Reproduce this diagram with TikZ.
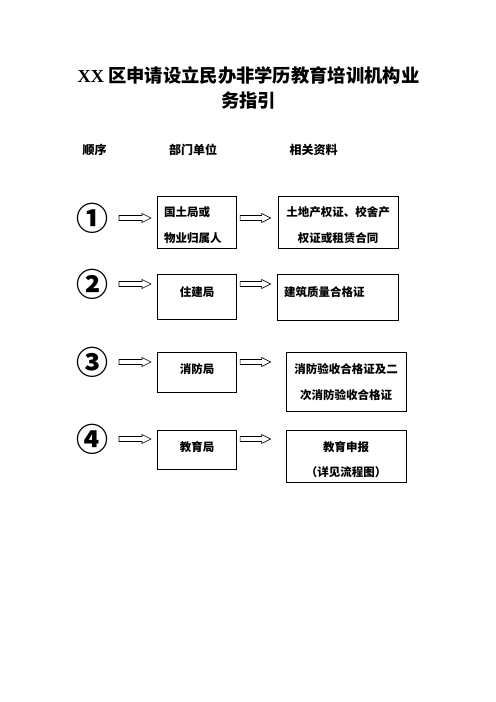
\documentclass[tikz,border=0pt]{standalone}
\usepackage{fontspec}
\newfontfamily\cjk{Noto Sans CJK SC}
\newfontfamily\latf{Liberation Serif}
\usetikzlibrary{calc}
\tikzset{
  box/.style={draw=black, line width=0.9bp, inner sep=0, anchor=north west},
  txt/.style={inner sep=0, font=\cjk\bfseries\fontsize{11.5bp}{14bp}\selectfont},
  hdr/.style={inner sep=0, font=\cjk\bfseries\fontsize{12bp}{14bp}\selectfont},
  num/.style={inner sep=0, font=\cjk\bfseries\fontsize{32bp}{34bp}\selectfont},
  harrow/.style={draw=black, line width=0.6bp, fill=white, line join=miter},
}
\newcommand\harr[2]{%
  \draw[harrow] ($(#1)+(0,-2.5)$) -- ($(#2)+(-9,-2.5)$) -- ($(#2)+(-9,-4.5)$) -- (#2)
    -- ($(#2)+(-9,4.5)$) -- ($(#2)+(-9,2.5)$) -- ($(#1)+(0,2.5)$) -- cycle;}
\begin{document}
\begin{tikzpicture}[x=1bp,y=-1bp]
\useasboundingbox (0,0) rectangle (496,702);
\fill[white] (0,0) rectangle (496,702);
% title
\node[inner sep=0, font=\cjk\bfseries\fontsize{18.3bp}{22bp}\selectfont] (t1) at (248.5,75) {{\latf\bfseries XX} 区申请设立民办非学历教育培训机构业};
\node[inner sep=0, font=\cjk\bfseries\fontsize{18.3bp}{22bp}\selectfont] (t2) at (248.5,101) {务指引};
% header
\node[hdr] (h1) at (94.5,150) {顺序};
\node[hdr] (h2) at (193,150) {部门单位};
\node[hdr] (h3) at (313.5,150) {相关资料};
% circled numbers
\node[num] (c1) at (92,218) {①};
\node[num] (c2) at (92,284) {②};
\node[num] (c3) at (92,362) {③};
\node[num] (c4) at (92,439) {④};
% boxes row 1
\node[box, minimum width=79, minimum height=52] (b1) at (157,196) {};
\node[box, minimum width=120, minimum height=52] (d1) at (278,196) {};
\node[txt, anchor=west] (b1a) at (164,212) {国土局或};
\node[txt, anchor=west] (b1b) at (164,238) {物业归属人};
\node[txt] (d1a) at (338,212) {土地产权证、校舍产};
\node[txt] (d1b) at (338,238) {权证或租赁合同};
% row 2
\node[box, minimum width=79, minimum height=45] (b2) at (157,274) {};
\node[box, minimum width=121, minimum height=46] (d2) at (277,274) {};
\node[txt] (b2a) at (197,292) {住建局};
\node[txt, anchor=west] (d2a) at (284,292) {建筑质量合格证};
% row 3
\node[box, minimum width=79, minimum height=40] (b3) at (157,352) {};
\node[box, minimum width=120, minimum height=59] (d3) at (286,352) {};
\node[txt] (b3a) at (197,369) {消防局};
\node[txt] (d3a) at (346,369) {消防验收合格证及二};
\node[txt] (d3b) at (346,395) {次消防验收合格证};
% row 4
\node[box, minimum width=79, minimum height=39] (b4) at (157,430) {};
\node[box, minimum width=120, minimum height=52] (d4) at (286,430) {};
\node[txt] (b4a) at (197,447) {教育局};
\node[txt] (d4a) at (346,447) {教育申报};
\node[txt] (d4b) at (346,472) {（详见流程图）};
% arrows
\foreach \i in {1,2,3,4}{
  \coordinate (p\i s) at ($(c\i.center)+(27,0)$);
  \coordinate (p\i e) at (b\i.west |- c\i.center);
  \coordinate (q\i s) at (b\i.east |- c\i.center);
  \coordinate (p\i e2) at ($(p\i e)+(-6,0)$);
  \coordinate (q\i s2) at ($(q\i s)+(3.5,0)$);
  \coordinate (q\i e) at ($(q\i s)+(34,0)$);
  \harr{p\i s}{p\i e2}
  \harr{q\i s2}{q\i e}
}
\end{tikzpicture}
\end{document}
